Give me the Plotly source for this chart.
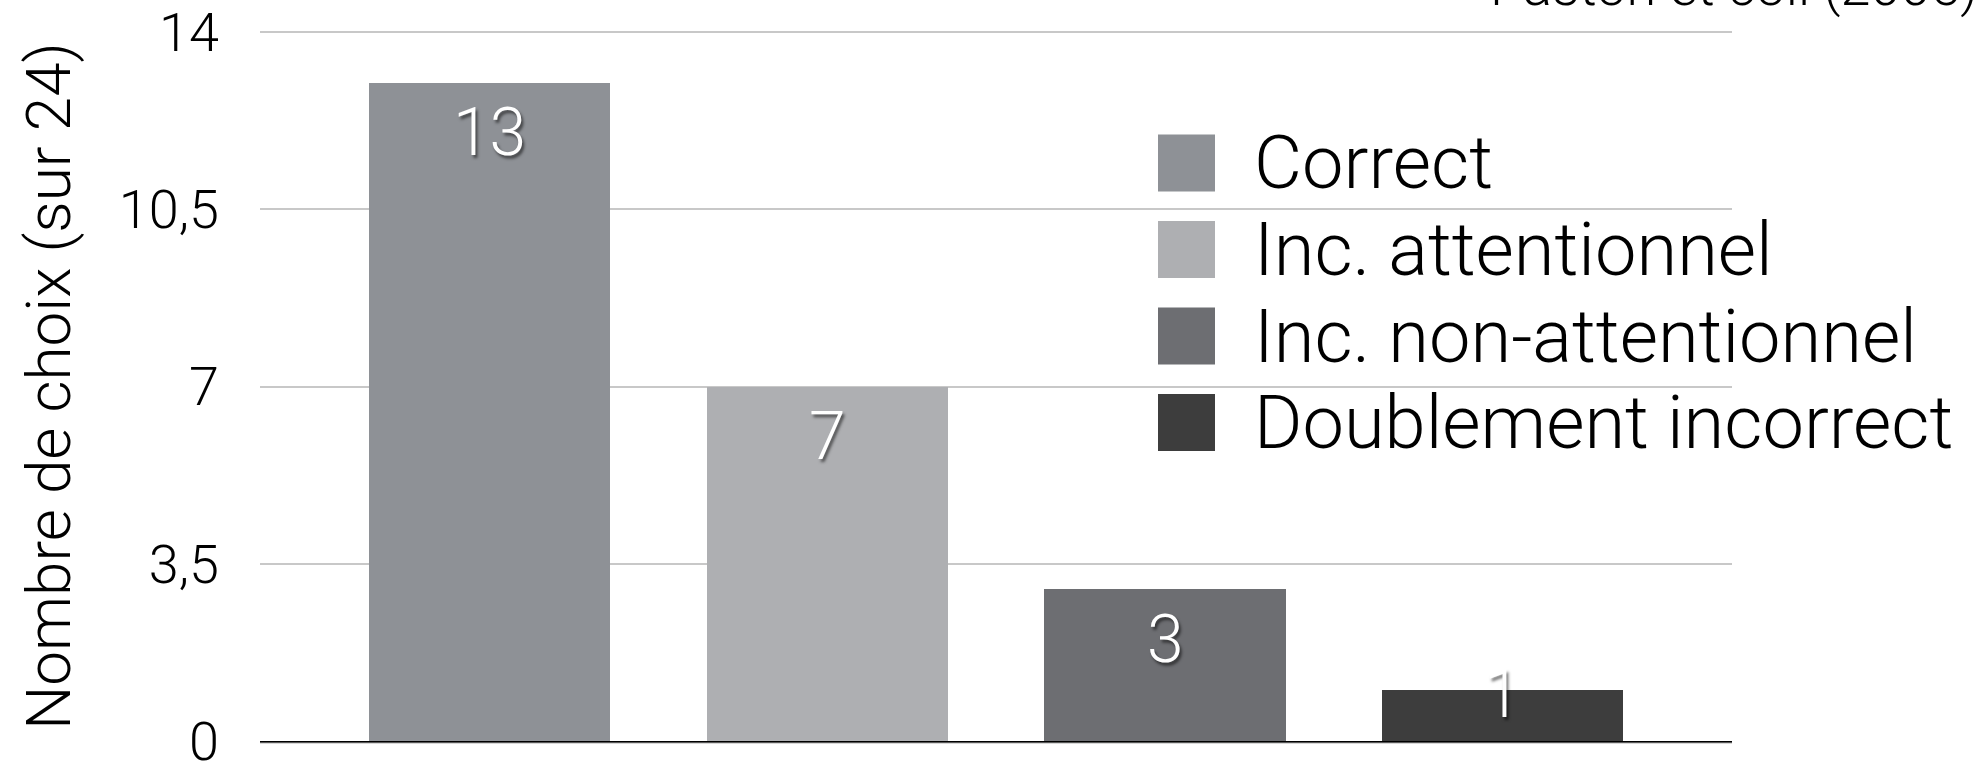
import plotly.graph_objects as go

# Choix des participants (sur 24)
categories = ["Correct", "Inc. attentionnel", "Inc. non-attentionnel", "Doublement incorrect"]
values = [13, 7, 3, 1]
bar_colors = ["#8e9196", "#aeafb2", "#6d6e72", "#3d3d3d"]
tick_values = [0, 3.5, 7, 10.5, 14]
tick_labels = ["0", "3,5", "7", "10,5", "14"]
source_note = "Paston et coll (2005)"
y_title = "Nombre de choix (sur 24)"

W, H = 1982, 763
M_L, M_R, M_T, M_B = 260, 250, 31, 22
PW, PH = W - M_L - M_R, H - M_T - M_B
FONT = "Roboto"


def py(px):
    """pixel row -> paper y"""
    return (H - M_B - px) / PH


def px_(x):
    """pixel column -> paper x"""
    return (x - M_L) / PW


fig = go.Figure()
for cat, val, col in zip(categories, values, bar_colors):
    fig.add_trace(go.Bar(
        x=[cat], y=[val], name=cat, marker=dict(color=col, line=dict(width=0)),
        width=0.714, showlegend=False, hoverinfo="skip",
    ))

# value labels inside the top of each bar
for cat, val in zip(categories, values):
    fig.add_annotation(
        x=cat, y=val, xref="x", yref="y", text=str(val), showarrow=False,
        yanchor="middle", yshift=-50 if val >= 2 else -4,
        font=dict(family=FONT, weight=300, size=66, color="white",
                  shadow="2px 3px 3px rgba(0,0,0,0.55)"),
    )

# legend drawn as large swatches + labels
row0, row_gap, half = 163, 86.5, 28.5
for i, (cat, col) in enumerate(zip(categories, bar_colors)):
    cy = row0 + i * row_gap
    fig.add_shape(type="rect", xref="paper", yref="paper",
                  x0=px_(1158), x1=px_(1215), y0=py(cy + half), y1=py(cy - half),
                  fillcolor=col, line=dict(width=0), layer="above")
    fig.add_annotation(
        x=px_(1252), y=py(cy), xref="paper", yref="paper", text=cat,
        showarrow=False, xanchor="left", yanchor="middle",
        font=dict(family=FONT, weight=300, size=74, color="black"),
    )

# source note at the top right (runs off the top edge)
fig.add_annotation(
    x=px_(1980), y=py(-14), xref="paper", yref="paper", text=source_note,
    showarrow=False, xanchor="right", yanchor="middle",
    font=dict(family=FONT, weight=300, size=54, color="black"),
)

# baseline shadow
fig.add_shape(type="line", xref="paper", yref="paper", x0=0, x1=1,
              y0=py(743), y1=py(743), line=dict(color="#b0b0b0", width=1))

fig.update_layout(
    width=W, height=H,
    margin=dict(l=M_L, r=M_R, t=M_T, b=M_B),
    paper_bgcolor="white", plot_bgcolor="white",
    barmode="overlay", bargap=0,
    font=dict(family=FONT, weight=300, color="black"),
    showlegend=False,
    xaxis=dict(
        type="category", categoryorder="array", categoryarray=categories,
        range=[-0.68, 3.679], showticklabels=False, ticks="",
        showgrid=False, zeroline=False, automargin=False,
        showline=True, linecolor="black", linewidth=2,
    ),
    yaxis=dict(
        range=[0, 14.02], tickvals=tick_values, ticktext=tick_labels,
        tickfont=dict(family=FONT, weight=300, size=54, color="black"),
        ticks="", ticklabelstandoff=40, automargin=False,
        ticklabeloverflow="allow",
        showgrid=True, gridcolor="#c8c8c8", gridwidth=2,
        zeroline=False, showline=False,
        title=dict(text=y_title, standoff=28,
                   font=dict(family=FONT, weight=300, size=62, color="black")),
    ),
)

fig.write_html("out.html")
